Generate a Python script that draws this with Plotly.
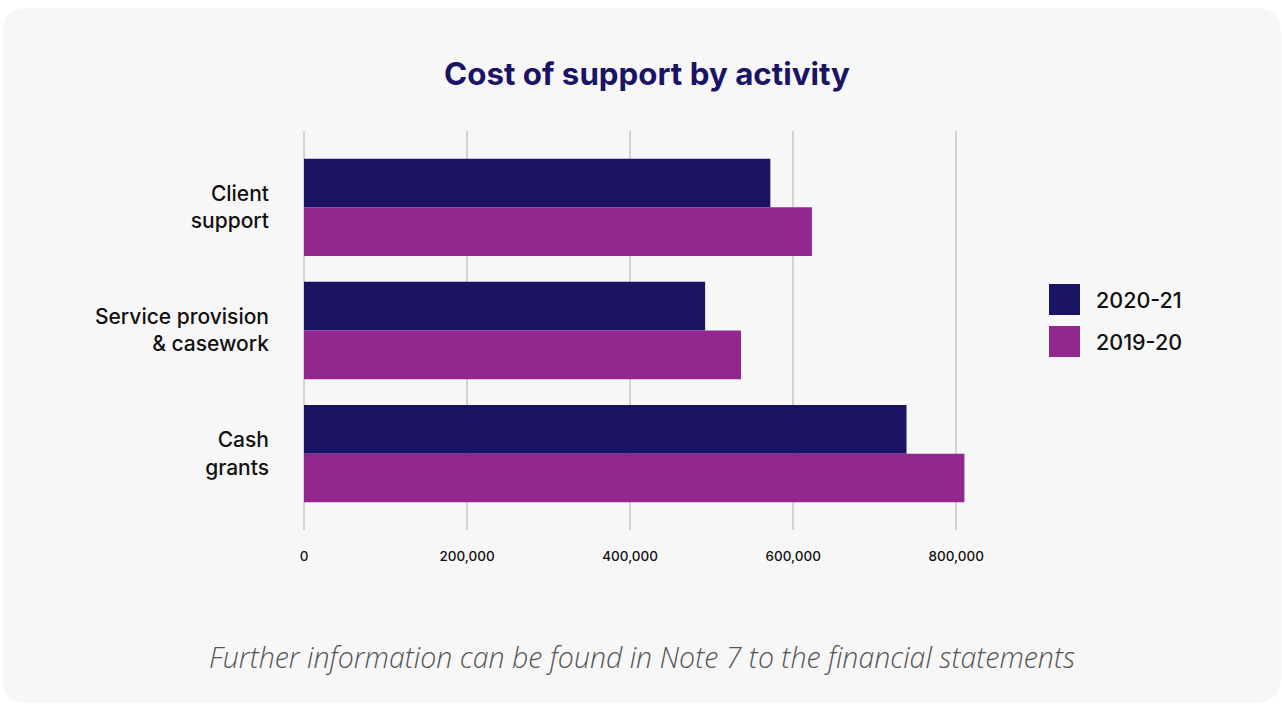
import plotly.graph_objects as go

categories = ["Client<br>support", "Service provision<br>& casework", "Cash<br>grants"]
series_names = ["2020-21", "2019-20"]
values_2020_21 = [572000, 492000, 739000]
values_2019_20 = [623000, 536000, 810000]
tick_vals = [0, 200000, 400000, 600000, 800000]
colors = ["#1b1464", "#92278f"]

W, H = 1282, 704
L, R, T, B = 304, 997, 131, 530  # plot area in pixels
pw, ph = R - L, B - T

def px(x):
    return (x - L) / pw

def py(y):
    return (B - y) / ph

fig = go.Figure()
for name, vals, col in zip(series_names, [values_2020_21, values_2019_20], colors):
    fig.add_trace(go.Bar(
        y=categories, x=vals, name=name, orientation="h",
        marker=dict(color=col, line=dict(width=0)), showlegend=False,
        hoverinfo="x+name",
    ))

# card background with rounded corners
x0, x1, y0, y1, r = 2, 1281, 8, 703, 26
path = (
    f"M {px(x0 + r)},{py(y0)} L {px(x1 - r)},{py(y0)} "
    f"Q {px(x1)},{py(y0)} {px(x1)},{py(y0 + r)} "
    f"L {px(x1)},{py(y1 - r)} Q {px(x1)},{py(y1)} {px(x1 - r)},{py(y1)} "
    f"L {px(x0 + r)},{py(y1)} Q {px(x0)},{py(y1)} {px(x0)},{py(y1 - r)} "
    f"L {px(x0)},{py(y0 + r)} Q {px(x0)},{py(y0)} {px(x0 + r)},{py(y0)} Z"
)
shapes = [dict(type="path", xref="paper", yref="paper", path=path,
               fillcolor="#f7f7f7", line=dict(width=0), layer="below")]

annotations = []
# custom legend (large square swatches)
leg_x, leg_y0, sw, step = 1049, 284, 31, 42
for i, (name, col) in enumerate(zip(series_names, colors)):
    ty = leg_y0 + i * step
    shapes.append(dict(type="rect", xref="paper", yref="paper",
                       x0=px(leg_x), x1=px(leg_x + sw), y0=py(ty + sw), y1=py(ty),
                       fillcolor=col, line=dict(width=0)))
    annotations.append(dict(xref="paper", yref="paper", x=px(leg_x + sw + 14), y=py(ty + sw / 2),
                            text=name, showarrow=False, xanchor="left", yanchor="middle",
                            font=dict(family="Inter", size=21.5, color="#111111", weight=500)))

annotations.append(dict(xref="paper", yref="paper", x=px(642), y=py(657),
                        text="Further information can be found in Note 7 to the financial statements",
                        showarrow=False, xanchor="center", yanchor="middle",
                        font=dict(family="Open Sans", size=28.5, color="#555555", style="italic", weight=300)))

fig.update_layout(
    width=W, height=H,
    margin=dict(l=L, r=W - R, t=T, b=H - B, pad=0),
    paper_bgcolor="#ffffff", plot_bgcolor="rgba(0,0,0,0)",
    barmode="group", bargap=0.21, bargroupgap=0,
    title=dict(text="<b>Cost of support by activity</b>", x=647 / W, xref="container",
               y=1 - 74 / H, yref="container", xanchor="center", yanchor="middle",
               font=dict(family="Inter", size=31.3, color="#1b1464")),
    shapes=shapes, annotations=annotations,
    xaxis=dict(range=[0, 850000], tickvals=tick_vals, tickformat=",",
               showgrid=True, gridcolor="#d3d3d3", gridwidth=2,
               zeroline=True, zerolinecolor="#d3d3d3", zerolinewidth=2,
               showline=False, ticks="", ticklabelstandoff=16,
               tickfont=dict(family="Inter", size=13.5, color="#111111", weight=500),
               fixedrange=True),
    yaxis=dict(categoryorder="array", categoryarray=categories,
               range=[2.62, -0.62], showgrid=False, zeroline=False, showline=False,
               ticks="", ticklabelstandoff=34,
               tickfont=dict(family="Inter", size=21, color="#111111", weight=500),
               fixedrange=True),
    showlegend=False,
)

fig.write_html("out.html")
